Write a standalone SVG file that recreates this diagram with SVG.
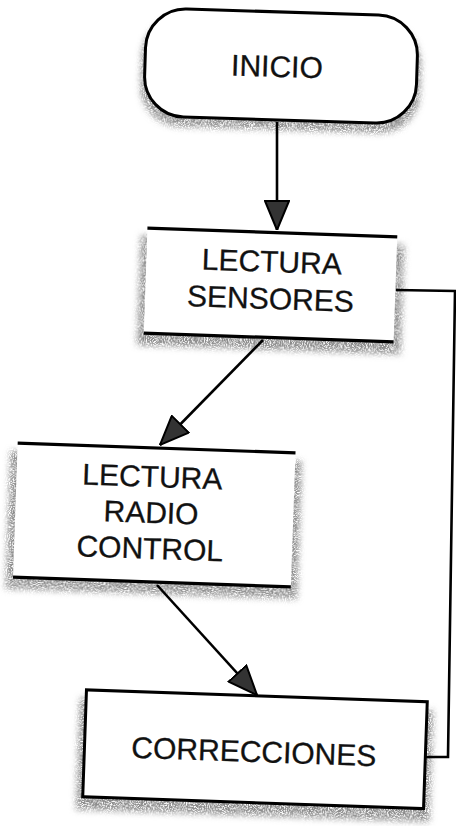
<svg xmlns="http://www.w3.org/2000/svg" width="456" height="826" viewBox="0 0 456 826">
  <style>
    .label { font-family: "Liberation Sans", Arial, Helvetica, sans-serif; font-size: 30px; fill: #111; stroke: #111; stroke-width: 0.3; text-anchor: middle; }
    .edge { stroke: #000; stroke-width: 3; fill: none; }
    .rule { stroke: #000; stroke-width: 3.2; }
    .face { fill: #fff; }
    .shade { fill: #000; filter: url(#stipple); }
    .conn { stroke: #000; stroke-width: 2.6; fill: none; }
  </style>
  <defs>
    <!-- speckled grey drop shadow -->
    <filter id="stipple" x="-20%" y="-30%" width="140%" height="160%">
      <feTurbulence type="fractalNoise" baseFrequency="0.95" numOctaves="2" seed="4" result="noise"/>
      <feColorMatrix in="noise" type="matrix" values="0 0 0 0 0.25  0 0 0 0 0.25  0 0 0 0 0.25  0 0 0 4.5 -1.5" result="dots"/>
      <feGaussianBlur in="SourceAlpha" stdDeviation="3.2" result="soft"/>
      <feComposite in="dots" in2="soft" operator="in"/>
    </filter>
    <marker id="head" viewBox="0 0 30 26" refX="30" refY="13" markerWidth="30" markerHeight="26" markerUnits="userSpaceOnUse" orient="auto">
      <path d="M1,1 L30,13 L1,25 Z" fill="#333" stroke="#000" stroke-width="2" stroke-linejoin="miter"/>
    </marker>
  </defs>

  <rect width="456" height="826" fill="#fff"/>

  <!-- start terminal -->
  <g id="inicio" transform="rotate(1.8 281 66)">
    <rect class="shade" x="141" y="20" width="280" height="110" rx="40"/>
    <rect class="face edge" x="145" y="12" width="272" height="108" rx="40"/>
    <text class="label" x="277" y="77">INICIO</text>
  </g>

  <!-- sensor reading -->
  <g id="lectura-sensores" transform="rotate(2 270.5 285)">
    <rect class="shade" x="139" y="240" width="264" height="110"/>
    <rect class="face" x="145.5" y="232.5" width="250" height="105"/>
    <line class="rule" x1="145.5" y1="232.5" x2="395.5" y2="232.5"/>
    <line class="rule" x1="145.5" y1="337.5" x2="395.5" y2="337.5"/>
    <text class="label" x="271" y="272">LECTURA</text>
    <text class="label" x="271" y="309">SENSORES</text>
  </g>

  <!-- radio control reading -->
  <g id="lectura-radio-control" transform="rotate(2 154.25 515)">
    <rect class="shade" x="8" y="456" width="292" height="138"/>
    <rect class="face" x="15.25" y="448" width="278" height="134"/>
    <line class="rule" x1="15.25" y1="448" x2="293.25" y2="448"/>
    <line class="rule" x1="15.25" y1="582" x2="293.25" y2="582"/>
    <text class="label" x="151" y="487">LECTURA</text>
    <text class="label" x="151" y="523">RADIO</text>
    <text class="label" x="151" y="559">CONTROL</text>
  </g>

  <!-- corrections -->
  <g id="correcciones" transform="rotate(2 255 749.25)">
    <rect class="shade" x="78" y="704" width="354" height="112"/>
    <rect class="face edge" x="84.5" y="695.75" width="341" height="107"/>
    <text class="label" x="254" y="762">CORRECCIONES</text>
  </g>

  <!-- connectors -->
  <g id="connectors">
    <line class="conn" x1="277" y1="122" x2="277" y2="230" marker-end="url(#head)"/>
    <line class="conn" x1="263" y1="340" x2="160" y2="445" marker-end="url(#head)"/>
    <line class="conn" x1="157" y1="585" x2="257" y2="695" marker-end="url(#head)"/>
    <polyline class="conn" points="396,290 455,291 448,757 426,757"/>
  </g>
</svg>
